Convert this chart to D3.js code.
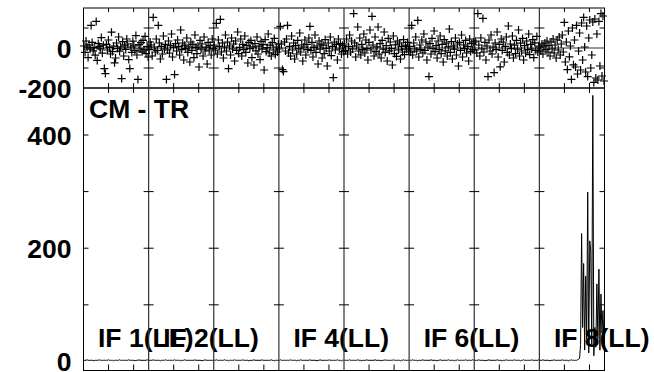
<!DOCTYPE html>
<html><head><meta charset="utf-8">
<script src="https://cdn.jsdelivr.net/npm/d3@7"></script>
<style>html,body{margin:0;padding:0;background:#fff;}svg{display:block;}</style>
</head><body>
<svg id="c" width="654" height="372"></svg>
<script>
// ---- data ----
const ifNames = ["IF 1(LL)","IF 2(LL)","IF 3(LL)","IF 4(LL)","IF 5(LL)","IF 6(LL)","IF 7(LL)","IF 8(LL)"];
const labelledIFs = [0,1,3,5,7];
const panelTitle = "CM - TR";
const topTickLabels = [-200, 0];
const topMinorTicks = [100, -100];
const bottomTickLabels = [0, 200, 400];
const bottomMinorTicks = [100, 200, 300, 400];
const channelTicks = [50, 100];

const phase1 = [10,-22,35,4,-48,16,-6,113,28,-14,2,-36,133,-62,22,8,-4,52,-26,14,-103,-128,18,-10,40,3,-30,79,-18,9,-74,-50,25,-3,55,-16,6,-153,32,-40,14,-7,45,20,-58,-103,5,-22,34,11,-13,62,-35,-157,17,-5,27,-19,38,-9,58,-28,7,-45];
const phase2 = [-8,30,15,-40,153,5,-20,45,-12,113,25,-55,8,-30,60,-5,18,-157,-10,35,-25,12,70,-45,3,-133,22,-15,40,8,-35,90,-8,25,-60,14,-3,50,-22,6,-70,30,-12,18,-48,65,2,-28,10,-95,38,-6,20,-40,55,-15,4,-80,28,-10,12,-35,45,-2];
const phase3 = [15,-10,123,-30,40,8,143,-20,25,-50,5,65,-15,30,-103,10,-35,50,-5,20,-65,35,-12,80,-28,3,45,-40,18,-8,60,-22,12,-75,28,-3,38,-48,6,-85,22,-14,55,-30,9,-58,33,-6,17,-110,42,-18,2,70,-25,14,-40,27,-10,48,-32,5,-20,20];
const phase4 = [-5,108,20,-108,-118,30,-15,45,113,-25,8,-40,60,-10,25,-55,12,-30,38,-4,75,-20,15,-65,5,40,-35,18,-8,50,108,-12,28,-45,3,65,-22,10,-80,35,-6,20,-50,14,-28,42,-2,-90,25,-15,55,-38,8,-148,30,-10,18,-60,45,-5,22,-30,12,-18];
const phase5 = [20,-12,45,-30,8,65,-20,35,-5,172,25,-45,10,105,-15,50,-35,18,-8,70,-25,40,-2,-60,28,90,-10,158,15,-40,55,-18,6,105,-30,22,-50,38,-6,80,-22,12,-65,48,-14,30,-3,-85,60,-28,16,-42,35,-9,25,-55,8,-20,42,-33,14,-6,28,-15];
const phase6 = [8,-20,113,-35,25,-5,55,-15,138,-45,15,-8,40,-25,70,-12,30,-60,5,-143,22,-30,48,-3,85,-18,12,-50,35,-8,60,-28,18,-70,42,-14,25,-40,6,95,-22,32,-55,10,-6,50,-35,20,-90,28,-12,65,-45,15,-3,38,-25,8,-65,45,-18,22,-8,30];
const phase7 = [-10,35,-25,172,15,-40,50,-5,148,-20,28,-60,10,-143,40,-15,65,-30,5,-123,25,-8,80,-45,18,-94,45,-12,30,-70,8,55,-22,110,-35,20,-3,60,-50,14,-28,38,-6,90,-40,24,-15,48,-60,12,-25,35,-8,70,-33,18,-5,42,-48,26,-12,58,-20,10];
const phase8 = [5,-15,20,-30,10,25,-8,35,-20,12,-40,30,-5,45,-25,15,-50,40,-10,55,-35,20,65,-20,128,-70,30,-108,85,-44,10,-157,100,-84,40,-95,113,-130,-15,75,-110,125,-60,153,5,-120,110,-143,50,140,-100,-35,130,-172,145,-150,70,-160,133,-90,172,-140,160,-165];

const amp1 = [2,2,2,3,2,2,2,2,2,2,1,2,2,2,2,3,2,2,2,2,2,2,2,2,3,2,2,2,2,1,2,2,2,2,2,3,2,2,2,2,2,2,2,2,3,2,2,2,2,2,1,2,2,2,3,2,2,2,2,2,2,2,3,2];
const amp2 = [2,2,2,2,3,2,2,2,2,2,2,1,2,2,2,2,3,2,2,2,2,2,2,2,2,3,2,2,2,2,2,1,2,2,2,3,2,2,2,2,2,2,2,2,2,3,2,2,2,2,2,2,1,2,2,3,2,2,2,2,2,2,2,2];
const amp3 = [2,2,3,2,2,2,2,2,2,2,3,2,2,2,1,2,2,2,2,2,3,2,2,2,2,2,2,2,3,2,2,2,2,2,1,2,2,2,2,3,2,2,2,2,2,2,2,3,2,2,2,2,2,2,2,2,3,2,2,1,2,2,2,2];
const amp4 = [2,3,2,2,2,2,2,2,2,2,2,3,2,2,2,2,2,1,2,2,2,3,2,2,2,2,2,2,2,2,3,2,2,2,2,2,2,1,2,2,3,2,2,2,2,2,2,2,2,3,2,2,2,2,2,2,2,3,2,2,2,1,2,2];
const amp5 = [2,2,2,2,2,3,2,2,2,2,2,2,2,3,2,2,2,1,2,2,2,2,3,2,2,2,2,2,2,2,3,2,2,2,2,2,1,2,2,2,3,2,2,2,2,2,2,2,3,2,2,2,2,2,2,1,2,2,3,2,2,2,2,2];
const amp6 = [2,2,2,3,2,2,2,2,1,2,2,2,2,3,2,2,2,2,2,2,2,3,2,2,2,2,2,1,2,2,3,2,2,2,2,2,2,2,3,2,2,2,2,2,1,2,2,3,2,2,2,2,2,2,2,3,2,2,2,2,2,2,3,2];
const amp7 = [2,2,2,2,3,2,2,2,2,2,1,2,2,2,3,2,2,2,2,2,2,2,3,2,2,2,2,1,2,2,2,3,2,2,2,2,2,2,2,3,2,2,2,2,2,1,2,2,3,2,2,2,2,2,2,2,3,2,2,2,2,2,2,3];
const amp8 = [2,2,2,3,2,2,2,2,2,2,1,2,2,2,3,2,2,2,2,2,2,2,3,2,2,2,2,2,1,2,2,3,2,2,2,2,2,3,4,5,30,226,60,173,20,151,40,299,15,213,195,30,470,10,60,25,137,40,163,20,119,50,90,30];

const phases = [phase1,phase2,phase3,phase4,phase5,phase6,phase7,phase8];
const amps = [amp1,amp2,amp3,amp4,amp5,amp6,amp7,amp8];

// ---- layout ----
const L = 83.5, R = 604.5, T = 8, MID = 88, B = 370.5;
const SEC = 130; // channel units per IF section
const nIF = ifNames.length;
const FS = 26.5;
const svg = d3.select("#c");
const x = d3.scaleLinear().domain([0, SEC * nIF]).range([L, R]);
const yTop = d3.scaleLinear().domain([-200, 200]).range([MID, T]);
const yBot = d3.scaleLinear().domain([-16, 483]).range([B, MID]);
const chanX = (k, i, n) => x(k * SEC + (i + 0.5) * SEC / n);
const font = "'Liberation Sans', Arial, Helvetica, sans-serif";

// frames
svg.append("rect").attr("x", L).attr("y", T).attr("width", R - L).attr("height", MID - T)
  .attr("fill", "none").attr("stroke", "#000");
svg.append("rect").attr("x", L).attr("y", MID).attr("width", R - L).attr("height", B - MID)
  .attr("fill", "none").attr("stroke", "#000");

// labels in bottom panel (drawn before data)
svg.append("text").attr("x", L + 5.5).attr("y", 118).text(panelTitle)
  .attr("font-family", font).attr("font-weight", "bold").attr("font-size", FS).attr("fill", "#000");
labelledIFs.forEach(k => {
  svg.append("text").attr("x", x(k * SEC) + 14.5).attr("y", 347).text(ifNames[k])
    .attr("font-family", font).attr("font-weight", "bold").attr("font-size", FS).attr("fill", "#000");
});

// dividers
d3.range(1, nIF).forEach(k => {
  svg.append("line").attr("x1", x(k * SEC)).attr("x2", x(k * SEC)).attr("y1", T).attr("y2", B)
    .attr("stroke", "#333").attr("stroke-width", 1.2);
});
// zero line in top panel
svg.append("line").attr("x1", L).attr("x2", R).attr("y1", yTop(0)).attr("y2", yTop(0))
  .attr("stroke", "#333").attr("stroke-width", 1.2);

// y ticks at every section boundary
d3.range(0, nIF + 1).forEach(k => {
  const xp = x(k * SEC);
  const g = svg.append("g").attr("stroke", "#000");
  const left = k > 0, right = k < nIF;
  topMinorTicks.forEach(v => {
    g.append("line").attr("x1", left ? xp - 5 : xp).attr("x2", right ? xp + 5 : xp)
      .attr("y1", yTop(v)).attr("y2", yTop(v));
  });
  bottomMinorTicks.forEach(v => {
    g.append("line").attr("x1", left ? xp - 5 : xp).attr("x2", right ? xp + 5 : xp)
      .attr("y1", yBot(v)).attr("y2", yBot(v));
  });
});
// x ticks
d3.range(0, nIF).forEach(k => {
  channelTicks.forEach(c => {
    const xp = x(k * SEC + c);
    svg.append("line").attr("x1", xp).attr("x2", xp).attr("y1", T).attr("y2", T + 4).attr("stroke", "#000");
    svg.append("line").attr("x1", xp).attr("x2", xp).attr("y1", MID - 5).attr("y2", MID + 5).attr("stroke", "#000");
    svg.append("line").attr("x1", xp).attr("x2", xp).attr("y1", B - 6).attr("y2", B).attr("stroke", "#000");
  });
});

// axis labels
const fmt = d => String(d);
const axT = d3.axisLeft(yTop).tickValues(topTickLabels).tickSize(0).tickPadding(12).tickFormat(fmt);
const axB = d3.axisLeft(yBot).tickValues(bottomTickLabels).tickSize(0).tickPadding(12).tickFormat(fmt);
[axT, axB].forEach(ax => {
  const g = svg.append("g").attr("transform", `translate(${L},0)`).call(ax);
  g.select(".domain").remove();
  g.selectAll("text").attr("font-family", font).attr("font-weight", "bold").attr("font-size", FS)
    .attr("fill", "#000").attr("dy", "0.34em");
});

// amplitude lines
const line = d3.line();
amps.forEach((arr, k) => {
  svg.append("path").attr("d", line(arr.map((v, i) => [chanX(k, i, arr.length), yBot(v)])))
    .attr("fill", "none").attr("stroke", "#000").attr("stroke-width", 1);
});

// phase points as "+"
phases.forEach((arr, k) => {
  const g = svg.append("g").attr("stroke", "#000").attr("stroke-width", 1.2);
  arr.forEach((v, i) => {
    const cx = chanX(k, i, arr.length), cy = yTop(v);
    g.append("path").attr("d", `M${cx - 4},${cy}H${cx + 4}M${cx},${cy - 4}V${cy + 4}`);
  });
});
</script>
</body></html>
